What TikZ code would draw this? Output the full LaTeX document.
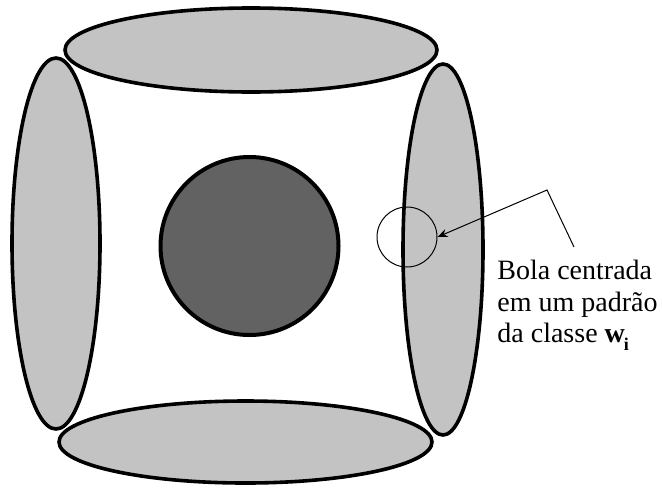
\documentclass[tikz,border=0pt]{standalone}
\usepackage{fontspec}
\setmainfont{Liberation Serif}
\usepackage{xcolor}
\usetikzlibrary{shapes.geometric, arrows.meta}

\definecolor{lightregion}{RGB}{195,195,195}
\definecolor{darkregion}{RGB}{98,98,98}

\begin{document}
\begin{tikzpicture}[x=0.5pt, y=-0.5pt,
    region/.style={ellipse, draw, line width=1.8pt, fill=lightregion, inner sep=0pt},
    every node/.style={font=\fontsize{14}{15.75}\selectfont}]
    \useasboundingbox (0,0) rectangle (662,487);
    \node (top) [region, minimum width=186pt, minimum height=42pt] at (251,50) {};
    \node (bottom) [region, minimum width=186.5pt, minimum height=41pt] at (245.5,442) {};
    \node (left) [region, minimum width=44pt, minimum height=185.5pt] at (56,243.5) {};
    \node (right) [region, minimum width=40pt, minimum height=185.5pt] at (443,249.5) {};
    \node (core) [circle, draw, line width=2pt, fill=darkregion, inner sep=0pt, minimum size=89pt] at (249.5,246) {};
    \node (ball) [circle, draw, line width=0.5pt, inner sep=0pt, minimum size=30pt] at (407,237) {};

    \coordinate (tail) at (574,247);
    \coordinate (knee) at (547,190);
    \draw [line width=0.5pt, -{Stealth[length=5pt, width=4pt]}] (tail) -- (knee) -- (ball.east);

    \node (label) [anchor=north west, align=left, inner sep=0pt] at (497,260)
        {Bola centrada\\em um padrão\\da classe \textbf{w}\kern-0.5pt\raisebox{-0.6ex}{\small\textbf{i}}};
\end{tikzpicture}
\end{document}
